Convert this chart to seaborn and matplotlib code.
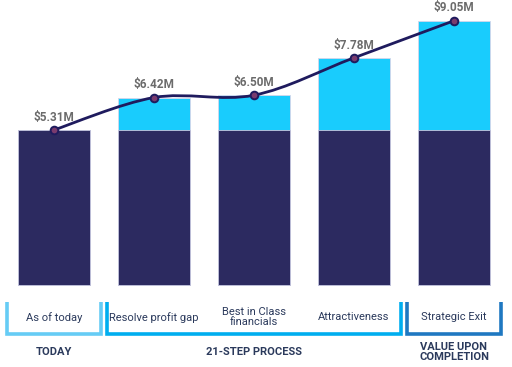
import numpy as np
import seaborn as sns
import matplotlib.pyplot as plt
from matplotlib.path import Path
from matplotlib.patches import PathPatch

# --- data ---
steps = ["As of today", "Resolve profit gap", "Best in Class\nfinancials",
         "Attractiveness", "Strategic Exit"]
base_value = [5.31, 5.31, 5.31, 5.31, 5.31]
total_value = [5.31, 6.42, 6.50, 7.78, 9.05]
value_labels = ["$5.31M", "$6.42M", "$6.50M", "$7.78M", "$9.05M"]
phases = ["TODAY", "21-STEP PROCESS", "VALUE UPON\nCOMPLETION"]
phase_span = [(0, 0), (1, 3), (4, 4)]
# -------------

DARK = "#2c2a60"
LIGHT = "#19ccfd"
LINE = "#1f1b5e"
BRACKET_COLORS = ["#66ccf5", "#00aeef", "#1f78c1"]
TEXT_DARK = "#2b3a5c"

sns.set_theme(style="white")
plt.rcParams["font.family"] = ["Roboto", "DejaVu Sans"]

fig = plt.figure(figsize=(5.12, 3.67), dpi=100)
ax = fig.add_axes([0, 0, 1, 1])

sns.barplot(x=steps, y=total_value, color=LIGHT, saturation=1, width=0.72,
            edgecolor="#d6d6ea", linewidth=0.6, ax=ax)
sns.barplot(x=steps, y=base_value, color=DARK, saturation=1, width=0.72,
            edgecolor="#c8c8e0", linewidth=0.6, ax=ax)

# smooth line through the totals (Catmull-Rom as cubic Bezier)
xs = np.arange(len(steps), dtype=float)
ys = np.array(total_value)
pts = np.column_stack([xs, ys])
verts = [pts[0]]
codes = [Path.MOVETO]
for i in range(len(pts) - 1):
    p0 = pts[i - 1] if i > 0 else pts[i]
    p1, p2 = pts[i], pts[i + 1]
    p3 = pts[i + 2] if i + 2 < len(pts) else pts[i + 1]
    c1 = p1 + (p2 - p0) / 6
    c2 = p2 - (p3 - p1) / 6
    verts += [c1, c2, p2]
    codes += [Path.CURVE4] * 3
ax.add_patch(PathPatch(Path(verts, codes), facecolor="none",
                       edgecolor=LINE, linewidth=2, zorder=5))
ax.plot(xs, ys, linestyle="none", marker="o", markersize=5.5,
        markerfacecolor="#7a3b6e", markeredgecolor=LINE,
        markeredgewidth=1.4, zorder=6)

for x, y, lab in zip(xs, ys, value_labels):
    ax.annotate(lab, (x, y), textcoords="offset points", xytext=(0, 4.5),
                ha="center", va="bottom", color="#6b6b6b",
                fontsize=8.5, fontweight="bold")

# bracket row under the bars
top, bottom = -0.58, -1.68
for (a, b), phase, col in zip(phase_span, phases, BRACKET_COLORS):
    left, right = a - 0.47, b + 0.47
    ax.plot([left, left, right, right], [top, bottom, bottom, top],
            color=col, linewidth=2.6, solid_joinstyle="miter",
            solid_capstyle="butt", clip_on=False)
    ax.text((a + b) / 2, -2.29, phase, ha="center", va="center",
            color=TEXT_DARK, fontsize=8, fontweight="bold", linespacing=1.0)

for x, lab in zip(xs, steps):
    ax.text(x, -1.10, lab, ha="center", va="center", color=TEXT_DARK,
            fontsize=8, linespacing=1.0)

ax.set_xlim(-0.54, 4.58)
ax.set_ylim(-2.81, 9.76)
ax.axis("off")

plt.savefig("out.png", dpi=100)
plt.close()
